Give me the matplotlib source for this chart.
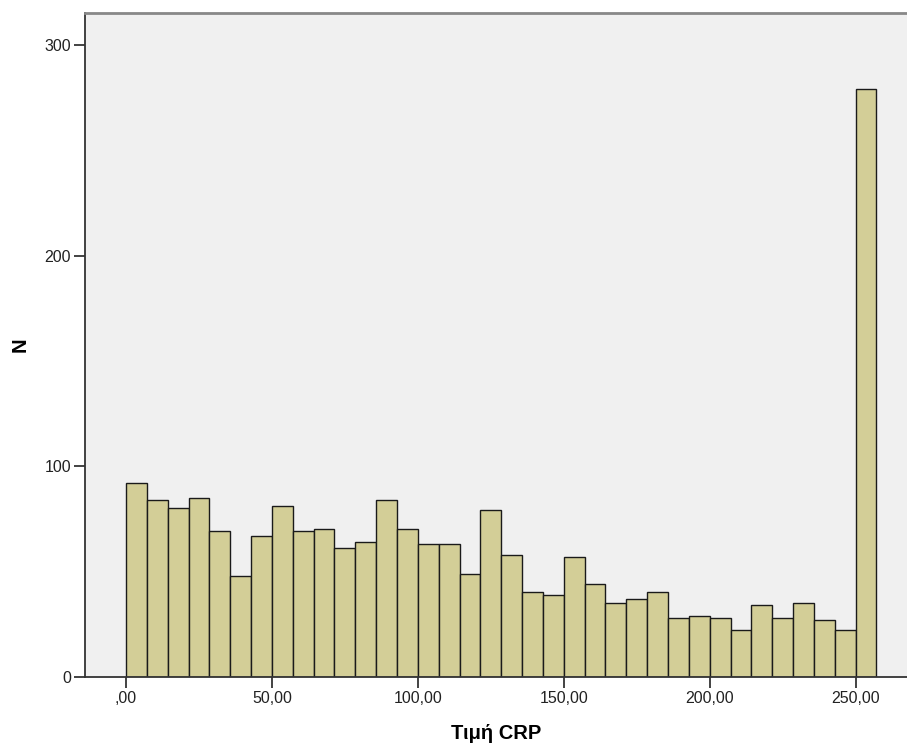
import numpy as np
from matplotlib import pyplot as plt

# histogram counts per bin (read from the SPSS output)
counts = [92, 84, 80, 85, 69, 48, 67, 81, 69, 70, 61, 64, 84, 70, 63, 63, 49, 79,
          58, 40, 39, 57, 44, 35, 37, 40, 28, 29, 28, 22, 34, 28, 35, 27, 22, 279]
bin_width = 250 / 35
xtick_vals = [0, 50, 100, 150, 200, 250]
xtick_labels = [',00', '50,00', '100,00', '150,00', '200,00', '250,00']
ytick_vals = [0, 100, 200, 300]

plt.rcParams['font.family'] = ['Liberation Sans', 'DejaVu Sans']

fig = plt.figure(figsize=(9.07, 7.49), dpi=100)
ax = fig.add_axes([85/907, 1 - 676.7/749, 1 - 85/907, (676.7 - 12.5)/749])
ax.set_facecolor('#f0f0f0')

left_edges = np.arange(len(counts)) * bin_width
ax.bar(left_edges, counts, width=bin_width, align='edge',
       color='#d3ce97', edgecolor='#1a1a1a', linewidth=1.0)

ax.set_xlim(-14.05, 267.6)
ax.set_ylim(0, 315.5)

ax.set_xticks(xtick_vals)
ax.set_xticklabels(xtick_labels)
ax.set_yticks(ytick_vals)
ax.tick_params(axis='both', direction='out', length=8, width=1.2,
               color='#222222', labelsize=11.5, labelcolor='#222222', pad=2)

for s in ['left', 'bottom']:
    ax.spines[s].set_color('#333333')
    ax.spines[s].set_linewidth(1.3)
ax.spines['top'].set_color('#888888')
ax.spines['top'].set_linewidth(2)
ax.spines['right'].set_visible(False)

ax.set_xlabel('Τιμή CRP', fontsize=14.5, fontweight='bold')
ax.set_ylabel('N', fontsize=14.5, fontweight='bold')
ax.xaxis.set_label_coords(0.5, -0.085)
ax.yaxis.set_label_coords(-0.079, 0.5)
ax.xaxis.label.set_va('center')
ax.yaxis.label.set_va('center')

fig.savefig('out.png', dpi=100)
